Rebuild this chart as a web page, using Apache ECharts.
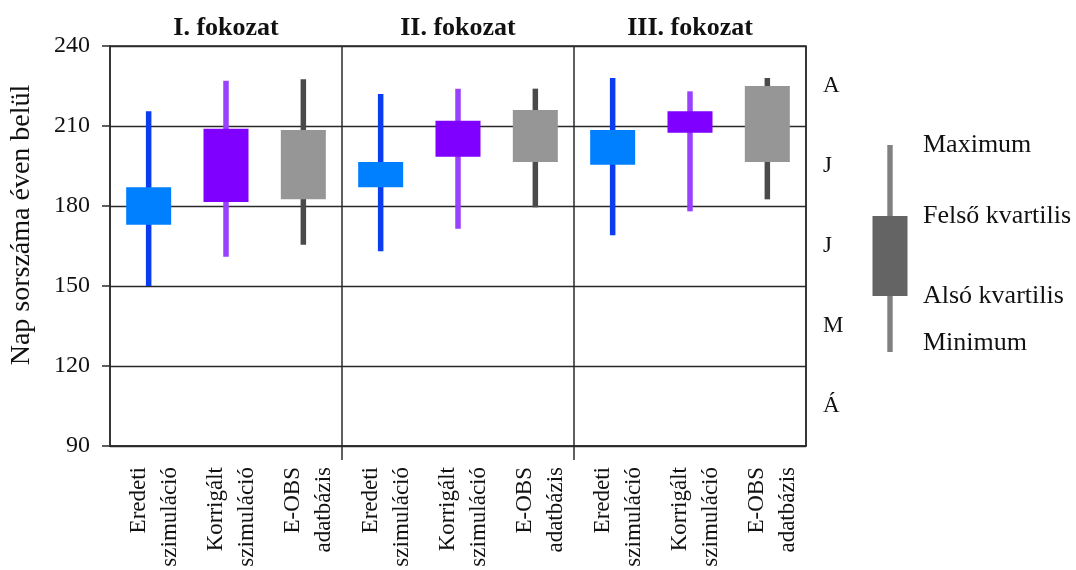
<!DOCTYPE html>
<html>
<head>
<meta charset="utf-8">
<title>Nap sorszáma éven belül – fokozatok</title>
<script src="https://cdn.jsdelivr.net/npm/echarts@6/dist/echarts.min.js"></script>
<style>
  html, body { margin: 0; padding: 0; background: #ffffff; }
  #chart { width: 1076px; height: 570px; }
</style>
</head>
<body>
<div id="chart"></div>
<script>
// Groups (top labels) and data sources (bottom labels, repeated per group)
const groups = ['I. fokozat', 'II. fokozat', 'III. fokozat'];
const sources = ['Eredeti\nszimuláció', 'Korrigált\nszimuláció', 'E-OBS\nadatbázis'];

// Per group: [minimum, alsó kvartilis, felső kvartilis, maximum] (day of year)
const eredetiStats   = [[150, 173, 187, 215.5], [163, 187, 196.5, 222], [169, 195.5, 208.5, 228]];
const korrigaltStats = [[161, 181.5, 209, 227], [171.5, 198.5, 212, 224], [178, 207.5, 215.5, 223]];
const eobsStats      = [[165.5, 182.5, 208.5, 227.5], [179.5, 196.5, 216, 224], [182.5, 196.5, 225, 228]];

// Value axis range and month bands (bottom to top)
const yMin = 90, yMax = 240, yStep = 30;
const monthLabels = ['Á', 'M', 'J', 'J', 'A'];

// Legend key entries
const keyLabels = ['Maximum', 'Felső kvartilis', 'Alsó kvartilis', 'Minimum'];

const FONT = "'Liberation Serif', 'DejaVu Serif', serif";
const LINE = '#2a2a2a';
const categories = groups.flatMap(() => sources);

// Build [categoryIndex, min, q1, q3, max] rows for a source
function rows(stats, sourceIndex) {
  return stats.map((s, g) => [g * sources.length + sourceIndex, s[0], s[1], s[2], s[3]]);
}

function boxRenderer(boxColor, whiskerColor) {
  return function (params, api) {
    const x = api.value(0);
    const lo = api.coord([x, api.value(1)]);
    const q1 = api.coord([x, api.value(2)]);
    const q3 = api.coord([x, api.value(3)]);
    const hi = api.coord([x, api.value(4)]);
    const bw = 45, ww = 5.5;
    return {
      type: 'group',
      children: [
        { type: 'rect', shape: { x: lo[0] - ww / 2, y: hi[1], width: ww, height: lo[1] - hi[1] },
          style: { fill: whiskerColor } },
        { type: 'rect', shape: { x: q1[0] - bw / 2, y: q3[1], width: bw, height: q1[1] - q3[1] },
          style: { fill: boxColor } }
      ]
    };
  };
}

function boxSeries(name, stats, idx, boxColor, whiskerColor) {
  return {
    name: name,
    type: 'custom',
    xAxisIndex: 0,
    yAxisIndex: 0,
    renderItem: boxRenderer(boxColor, whiskerColor),
    encode: { x: 0, y: [1, 2, 3, 4] },
    data: rows(stats, idx),
    silent: true
  };
}

// Group separators sit on the band boundaries before each new group
const isGroupStart = (i) => i > 0 && i % sources.length === 0 && i < categories.length;

// Key drawn on the right: whisker, box and the four labels
const keyX = 890, keyTop = 145, keyQ3 = 216, keyQ1 = 296, keyBottom = 352;
const keyYs = [145, 216, 296, 343];

const baseGraphic = [
  { id: 'yname', type: 'text', x: 22, y: 225, rotation: Math.PI / 2,
    style: { text: 'Nap sorszáma éven belül', fill: '#111', font: '28px ' + FONT,
             align: 'center', verticalAlign: 'middle' } },
  { id: 'keyWhisker', type: 'rect', shape: { x: keyX - 2.7, y: keyTop, width: 5.4, height: keyBottom - keyTop },
    style: { fill: '#808080' } },
  { id: 'keyBox', type: 'rect', shape: { x: keyX - 17.5, y: keyQ3, width: 35, height: keyQ1 - keyQ3 },
    style: { fill: '#646464' } }
].concat(keyLabels.map((t, i) => ({
  id: 'key' + i, type: 'text', x: 923, y: keyYs[i],
  style: { text: t, fill: '#111', font: '26px ' + FONT, align: 'left', verticalAlign: 'middle' }
})));

// Two-line category label: first line in a taller line box so the pair sits right of centre
function categoryLabel(value) {
  const parts = value.split('\n');
  return '{a|' + parts[0] + '}\n{b|' + parts[1] + '}';
}

const option = {
  animation: false,
  backgroundColor: '#ffffff',
  grid: { left: 110, right: 270, top: 46, bottom: 124, show: true, outerBoundsMode: 'none',
          containLabel: false, borderColor: LINE, borderWidth: 1.5, backgroundColor: 'transparent' },
  xAxis: [
    {
      type: 'category',
      data: categories,
      position: 'bottom',
      axisLine: { show: true, lineStyle: { color: LINE, width: 1.5 } },
      axisTick: { show: false },
      splitLine: { show: true, interval: (i) => isGroupStart(i),
                   lineStyle: { color: LINE, width: 1.5 } },
      axisLabel: {
        rotate: 90, margin: 21, interval: 0, color: '#111',
        fontFamily: FONT, fontSize: 23,
        formatter: categoryLabel,
        rich: {
          a: { fontFamily: FONT, fontSize: 23, color: '#111', lineHeight: 42 },
          b: { fontFamily: FONT, fontSize: 23, color: '#111', lineHeight: 20 }
        }
      }
    },
    {
      type: 'category',
      data: groups,
      position: 'top',
      axisLine: { show: false },
      axisTick: { show: false },
      axisLabel: { margin: 5, color: '#111', fontFamily: FONT, fontSize: 26, fontWeight: 'bold' }
    }
  ],
  yAxis: [
    {
      type: 'value',
      min: yMin, max: yMax, interval: yStep,
      position: 'left',
      axisLine: { show: true, lineStyle: { color: LINE, width: 1.5 } },
      axisTick: { show: true, length: 8, lineStyle: { color: LINE, width: 1.5 } },
      splitLine: { show: true, lineStyle: { color: LINE, width: 1.3 } },
      axisLabel: { margin: 20, color: '#111', fontFamily: FONT, fontSize: 24 }
    },
    {
      type: 'category',
      data: monthLabels,
      position: 'right',
      axisLine: { show: false },
      axisTick: { show: false },
      splitLine: { show: false },
      axisLabel: { margin: 17, color: '#111', fontFamily: FONT, fontSize: 23 }
    }
  ],
  graphic: baseGraphic,
  series: [
    boxSeries('Eredeti szimuláció', eredetiStats, 0, '#0080ff', '#0a3cf0'),
    boxSeries('Korrigált szimuláció', korrigaltStats, 1, '#7f00ff', '#9a40ff'),
    boxSeries('E-OBS adatbázis', eobsStats, 2, '#969696', '#4a4a4a')
  ]
};

const chart = echarts.init(document.getElementById('chart'), null, { renderer: 'canvas' });
chart.setOption(option);

// Extend each group separator a little below the category axis
const yBottom = chart.convertToPixel({ yAxisIndex: 0 }, yMin);
const stubs = [];
categories.forEach((c, i) => {
  if (!isGroupStart(i)) return;
  const xa = chart.convertToPixel({ xAxisIndex: 0 }, i - 1);
  const xb = chart.convertToPixel({ xAxisIndex: 0 }, i);
  const x = (xa + xb) / 2;
  stubs.push({ id: 'sep' + i, type: 'line',
               shape: { x1: x, y1: yBottom, x2: x, y2: yBottom + 14 },
               style: { stroke: LINE, lineWidth: 1.5 } });
});
chart.setOption({ graphic: baseGraphic.concat(stubs) });
</script>
</body>
</html>
